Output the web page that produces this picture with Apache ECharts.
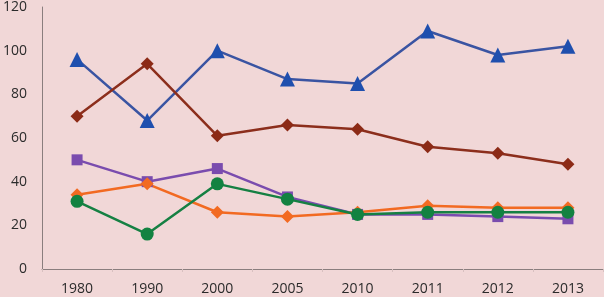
<!DOCTYPE html>
<html>
<head>
<meta charset="utf-8">
<script src="https://cdn.jsdelivr.net/npm/echarts@6/dist/echarts.min.js"></script>
<style>
  html, body { margin: 0; padding: 0; background: #f1d7d7; }
  #chart { width: 604px; height: 297px; }
</style>
</head>
<body>
<div id="chart"></div>
<script>
// 年份
var years = ['1980', '1990', '2000', '2005', '2010', '2011', '2012', '2013'];
// 各条线
var blueVals = [96, 68, 100, 87, 85, 109, 98, 102];
var redVals = [70, 94, 61, 66, 64, 56, 53, 48];
var purpleVals = [50, 40, 46, 33, 25, 25, 24, 23];
var orangeVals = [34, 39, 26, 24, 26, 29, 28, 28];
var greenVals = [31, 16, 39, 32, 25, 26, 26, 26];

function line(data, color, lineColor, symbol, size) {
  return {
    type: 'line',
    data: data,
    symbol: symbol,
    symbolSize: size,
    lineStyle: { color: lineColor, width: 2.5 },
    itemStyle: { color: color, borderWidth: 0 },
    animation: false
  };
}

var chart = echarts.init(document.getElementById('chart'));
chart.setOption({
  backgroundColor: '#f1d7d7',
  grid: { top: 5, right: 1, bottom: 28, left: 40 },
  xAxis: {
    type: 'category',
    data: years,
    boundaryGap: true,
    axisLine: { lineStyle: { color: '#8a7e7e', width: 1 } },
    axisTick: { show: true, length: 3, lineStyle: { color: '#d8c0c0' } },
    axisLabel: { color: '#2b2b2b', fontSize: 14, fontFamily: 'Open Sans', margin: 13 }
  },
  yAxis: {
    type: 'value',
    min: 0,
    max: 120,
    interval: 20,
    axisLine: { show: true, lineStyle: { color: '#8a7e7e', width: 1 } },
    axisTick: { show: false },
    splitLine: { show: false },
    axisLabel: { color: '#2b2b2b', fontSize: 14, fontFamily: 'Open Sans', margin: 15 }
  },
  series: [
    line(blueVals, '#1f4fae', '#3a54a2', 'triangle', 15),
    line(redVals, '#8c2a16', '#8c2e1c', 'diamond', 13),
    line(purpleVals, '#7a4cae', '#7a4cae', 'rect', 11),
    line(orangeVals, '#f26a22', '#f26a22', 'diamond', 13),
    line(greenVals, '#138241', '#168043', 'circle', 13)
  ]
});
</script>
</body>
</html>
